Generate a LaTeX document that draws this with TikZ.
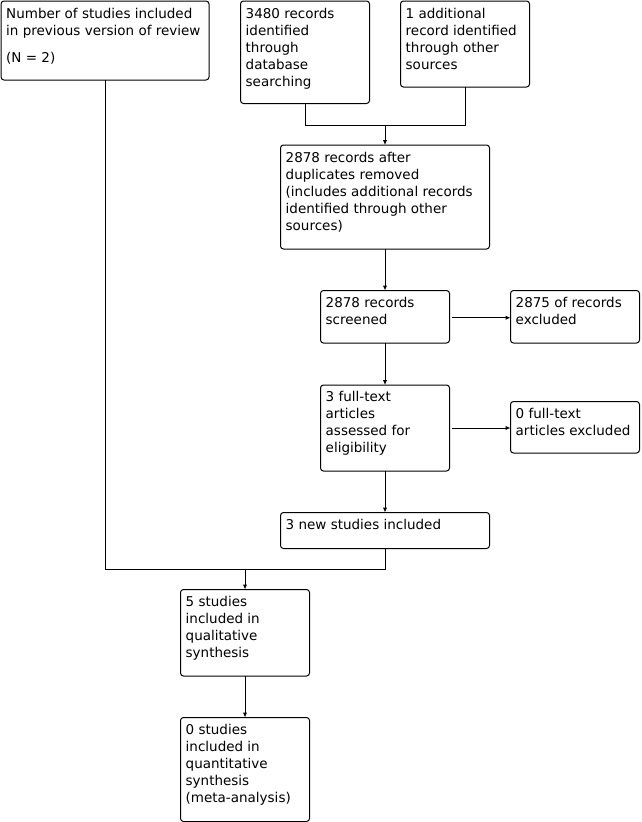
\documentclass[tikz,border=0pt]{standalone}
\usepackage{fontspec}
\setmainfont{DejaVu Sans}
\usetikzlibrary{arrows.meta,calc}
\tikzset{
  box/.style={draw=black, line width=1pt, rounded corners=3pt, anchor=north west, inner sep=0pt, outer sep=0pt},
  txt/.style={anchor=north west, inner sep=0pt, align=left, font=\fontsize{13.5}{17}\selectfont},
  conn/.style={line width=1pt, draw=black},
  arr/.style={line width=1pt, draw=black, -{Latex[length=5pt,width=4.5pt]}}
}
\begin{document}
\begin{tikzpicture}[x=1pt,y=-1pt]
\useasboundingbox (0,0) rectangle (642,822);
% boxes
\node[box, minimum width=208, minimum height=79] (A) at (1,1) {};
\node[box, minimum width=129, minimum height=102.5] (B) at (240.5,1) {};
\node[box, minimum width=129, minimum height=86] (C) at (400.5,1) {};
\node[box, minimum width=209, minimum height=104] (D) at (280.5,145) {};
\node[box, minimum width=129, minimum height=52.5] (E) at (320.5,290.5) {};
\node[box, minimum width=129, minimum height=52.5] (F) at (510.5,290.5) {};
\node[box, minimum width=129, minimum height=86] (G) at (320.5,385) {};
\node[box, minimum width=129, minimum height=51.5] (H) at (510.5,401.5) {};
\node[box, minimum width=209, minimum height=36] (I) at (280.5,512.5) {};
\node[box, minimum width=129, minimum height=86.5] (J) at (180.5,589.5) {};
\node[box, minimum width=129, minimum height=104] (K) at (180.5,717.5) {};
% texts
\node[txt] (tA) at ($(A.north west)+(5,5.5)$) {\strut Number of studies included\\in previous version of review\\[10pt](N = 2)};
\node[txt] (tB) at ($(B.north west)+(5,5.5)$) {\strut 3480 records\\identified\\through\\database\\searching};
\node[txt] (tC) at ($(C.north west)+(5,5.5)$) {\strut 1 additional\\record identified\\through other\\sources};
\node[txt] (tD) at ($(D.north west)+(5,5.5)$) {\strut 2878 records after\\duplicates removed\\(includes additional records\\identified through other\\sources)};
\node[txt] (tE) at ($(E.north west)+(5,4.5)$) {\strut 2878 records\\screened};
\node[txt] (tF) at ($(F.north west)+(5,4.5)$) {\strut 2875 of records\\excluded};
\node[txt] (tG) at ($(G.north west)+(5,4.5)$) {\strut 3 full-text\\articles\\assessed for\\eligibility};
\node[txt] (tH) at ($(H.north west)+(5,4.5)$) {\strut 0 full-text\\articles excluded};
\node[txt] (tI) at ($(I.north west)+(5,4.5)$) {\strut 3 new studies included};
\node[txt] (tJ) at ($(J.north west)+(5,4.5)$) {\strut 5 studies\\included in\\qualitative\\synthesis};
\node[txt] (tK) at ($(K.north west)+(5,4.5)$) {\strut 0 studies\\included in\\quantitative\\synthesis\\(meta-analysis)};
% connectors
\coordinate (m1) at (385,125);
\draw[conn] (B.south) |- (C.south |- m1) -- (C.south);
\draw[arr] (m1) -- (D.north);
\draw[arr] (D.south) -- (E.north);
\draw[arr] ($(E.east)+(2,1)$) -- ($(F.west)+(0,1)$);
\draw[arr] (E.south) -- (G.north);
\draw[arr] ($(G.east)+(2,0)$) -- (G.east -| F.west);
\draw[arr] (G.south) -- (I.north);
\coordinate (m2) at (245,569);
\draw[conn] (A.south) |- (I.south |- m2) -- (I.south);
\draw[arr] (m2) -- (J.north);
\draw[arr] (J.south) -- (K.north);
\end{tikzpicture}
\end{document}
